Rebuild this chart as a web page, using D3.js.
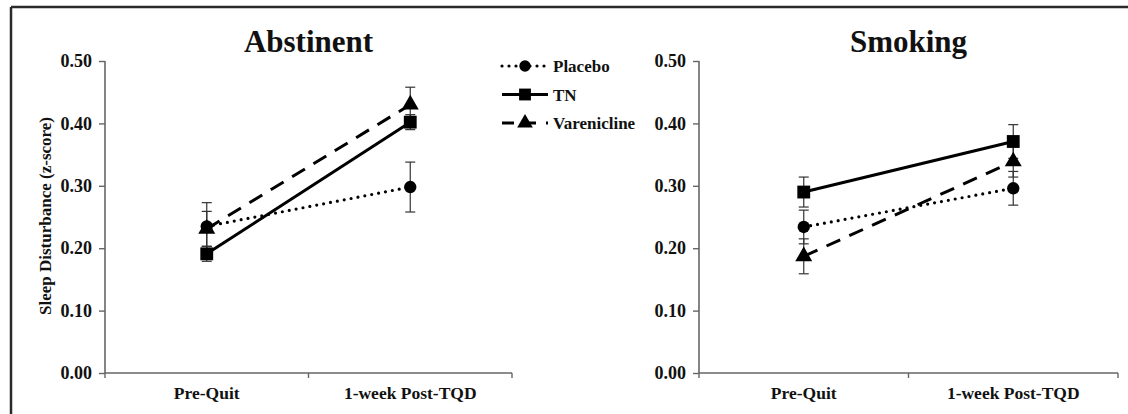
<!DOCTYPE html>
<html>
<head>
<meta charset="utf-8">
<script src="https://cdn.jsdelivr.net/npm/d3@7"></script>
<style>
  body { margin: 0; background: #fff; }
  text { font-family: "Liberation Serif", "Times New Roman", serif; font-weight: bold; fill: #111; }
</style>
</head>
<body>
<svg id="chart" width="1128" height="414"></svg>
<script>
// categories and series
const timepoints = ['Pre-Quit', '1-week Post-TQD'];
const groups = ['Placebo', 'TN', 'Varenicline'];
const yTicks = [0, 0.1, 0.2, 0.3, 0.4, 0.5];

// Abstinent panel
const abstPlacebo = [0.235, 0.298];
const abstPlaceboErr = [0.038, 0.040];
const abstTN = [0.191, 0.402];
const abstTNErr = [0.012, 0.012];
const abstVaren = [0.231, 0.430];
const abstVarenErr = [0.028, 0.028];

// Smoking panel
const smokPlacebo = [0.234, 0.296];
const smokPlaceboErr = [0.027, 0.027];
const smokTN = [0.290, 0.371];
const smokTNErr = [0.024, 0.027];
const smokVaren = [0.187, 0.339];
const smokVarenErr = [0.028, 0.025];

const panels = [
  { title: 'Abstinent', left: 105, right: 512, series: [
    { name: 'Placebo', values: abstPlacebo, err: abstPlaceboErr },
    { name: 'TN', values: abstTN, err: abstTNErr },
    { name: 'Varenicline', values: abstVaren, err: abstVarenErr } ] },
  { title: 'Smoking', left: 699, right: 1118, series: [
    { name: 'Placebo', values: smokPlacebo, err: smokPlaceboErr },
    { name: 'TN', values: smokTN, err: smokTNErr },
    { name: 'Varenicline', values: smokVaren, err: smokVarenErr } ] }
];

// line and marker style per group
const styles = {
  Placebo: { dash: '0,7', cap: 'round', width: 3.2, marker: d3.symbolCircle, size: 120 },
  TN: { dash: null, cap: 'butt', width: 3, marker: d3.symbolSquare, size: 165 },
  Varenicline: { dash: '15,10', cap: 'butt', width: 3, marker: d3.symbolTriangle, size: 125 }
};

const svg = d3.select('#chart');
const plotTop = 61, plotBottom = 373;

// outer frame (only top and left edges are visible)
svg.append('line').attr('x1', 11).attr('x2', 1128).attr('y1', 7).attr('y2', 7)
  .attr('stroke', '#2a2a2a').attr('stroke-width', 2.5);
svg.append('line').attr('x1', 11).attr('x2', 11).attr('y1', 7).attr('y2', 414)
  .attr('stroke', '#2a2a2a').attr('stroke-width', 2.5);

const y = d3.scaleLinear().domain([0, 0.5]).range([plotBottom, plotTop]);

panels.forEach(p => {
  const x = d3.scaleBand().domain(timepoints).range([p.left, p.right]);
  const cx = d => x(d) + x.bandwidth() / 2;
  const g = svg.append('g');

  // y axis
  const yAxis = d3.axisLeft(y).tickValues(yTicks).tickFormat(d3.format('.2f')).tickSize(6).tickPadding(7);
  const ya = g.append('g').attr('transform', `translate(${p.left},0)`).call(yAxis);
  ya.select('.domain').remove();
  ya.append('line').attr('y1', plotTop).attr('y2', plotBottom).attr('stroke', '#666').attr('stroke-width', 1.6);
  ya.selectAll('.tick line').attr('stroke', '#666').attr('stroke-width', 1.4);
  ya.selectAll('.tick text').attr('font-size', 18).attr('font-family', '"Liberation Serif", serif')
    .attr('font-weight', 'bold').attr('fill', '#222');

  // x axis with ticks on the band edges
  const xa = g.append('g');
  xa.append('line').attr('x1', p.left).attr('x2', p.right).attr('y1', plotBottom).attr('y2', plotBottom)
    .attr('stroke', '#666').attr('stroke-width', 1.6);
  const edges = timepoints.map(t => x(t)).concat([p.right]);
  xa.selectAll('.xt').data(edges).join('line')
    .attr('x1', d => d).attr('x2', d => d).attr('y1', plotBottom).attr('y2', plotBottom + 5)
    .attr('stroke', '#666').attr('stroke-width', 1.4);
  xa.selectAll('.xl').data(timepoints).join('text')
    .attr('x', cx).attr('y', plotBottom + 26).attr('text-anchor', 'middle')
    .attr('font-size', 17.5).attr('fill', '#222').text(d => d);

  // title
  g.append('text').attr('x', (p.left + p.right) / 2).attr('y', 52).attr('text-anchor', 'middle')
    .attr('font-size', 31).text(p.title);

  // error bars
  p.series.forEach(s => {
    const eb = g.append('g');
    timepoints.forEach((t, i) => {
      const x0 = cx(t), hi = y(s.values[i] + s.err[i]), lo = y(s.values[i] - s.err[i]);
      eb.append('line').attr('x1', x0).attr('x2', x0).attr('y1', hi).attr('y2', lo)
        .attr('stroke', '#333').attr('stroke-width', 1.2);
      [hi, lo].forEach(yy => eb.append('line').attr('x1', x0 - 5).attr('x2', x0 + 5)
        .attr('y1', yy).attr('y2', yy).attr('stroke', '#333').attr('stroke-width', 1.2));
    });
  });

  // lines
  const line = d3.line().x((d, i) => cx(timepoints[i])).y(d => y(d));
  p.series.forEach(s => {
    const st = styles[s.name];
    g.append('path').datum(s.values).attr('d', line).attr('fill', 'none')
      .attr('stroke', '#000').attr('stroke-width', st.width)
      .attr('stroke-dasharray', st.dash).attr('stroke-linecap', st.cap);
  });

  // markers
  p.series.slice().reverse().forEach(s => {
    const st = styles[s.name];
    g.selectAll(null).data(s.values).join('path')
      .attr('transform', (d, i) => `translate(${cx(timepoints[i])},${y(d)})`)
      .attr('d', d3.symbol().type(st.marker).size(st.size)).attr('fill', '#000');
  });
});

// y axis title
svg.append('text').attr('transform', 'translate(51,216) rotate(-90)').attr('text-anchor', 'middle')
  .attr('font-size', 17).text('Sleep Disturbance (z-score)');

// legend
const legend = svg.append('g').attr('transform', 'translate(502,66)');
groups.forEach((name, i) => {
  const st = styles[name];
  const row = legend.append('g').attr('transform', `translate(0,${i * 28.5})`);
  row.append('line').attr('x1', 0).attr('x2', 46).attr('y1', 0).attr('y2', 0)
    .attr('stroke', '#000').attr('stroke-width', st.width)
    .attr('stroke-dasharray', name === 'Varenicline' ? '12,10' : st.dash).attr('stroke-linecap', st.cap);
  row.append('path').attr('transform', 'translate(23,0)')
    .attr('d', d3.symbol().type(st.marker).size(st.size * 0.85)).attr('fill', '#000');
  row.append('text').attr('x', 51).attr('y', 6).attr('font-size', 17).text(name);
});
</script>
</body>
</html>
